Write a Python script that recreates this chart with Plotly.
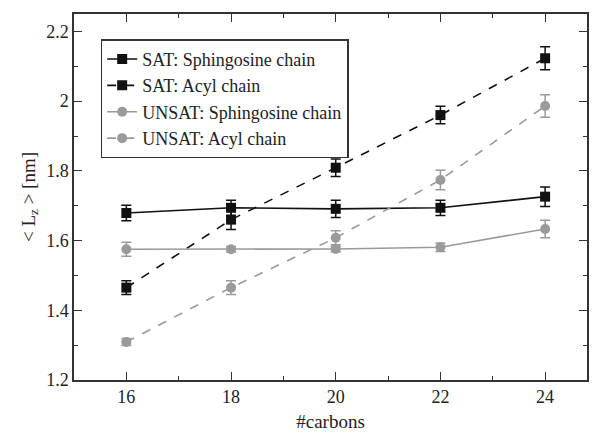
import plotly.graph_objects as go

carbons = [16, 18, 20, 22, 24]

sat_sph = [1.679, 1.694, 1.691, 1.694, 1.726]
sat_sph_err = [0.022, 0.022, 0.025, 0.022, 0.028]

sat_acyl = [1.465, 1.660, 1.809, 1.960, 2.123]
sat_acyl_err = [0.020, 0.028, 0.025, 0.025, 0.033]

unsat_sph = [1.575, 1.575, 1.576, 1.581, 1.633]
unsat_sph_err = [0.020, 0.008, 0.008, 0.012, 0.025]

unsat_acyl = [1.309, 1.465, 1.608, 1.774, 1.986]
unsat_acyl_err = [0.010, 0.020, 0.020, 0.028, 0.032]

BLACK = "#111111"
GRAY = "#9a9a9a"
FONT = "Liberation Serif"

series = [
    ("SAT: Sphingosine chain", sat_sph, sat_sph_err, BLACK, "solid", "square"),
    ("SAT: Acyl chain", sat_acyl, sat_acyl_err, BLACK, "dash", "square"),
    ("UNSAT: Sphingosine chain", unsat_sph, unsat_sph_err, GRAY, "solid", "circle"),
    ("UNSAT: Acyl chain", unsat_acyl, unsat_acyl_err, GRAY, "dash", "circle"),
]

fig = go.Figure()
for name, ys, errs, col, dash, sym in series:
    fig.add_trace(go.Scatter(
        x=carbons, y=ys, name=name, mode="lines+markers",
        line=dict(color=col, width=1.6, dash=dash),
        marker=dict(symbol=sym, size=10, color=col),
        error_y=dict(type="data", array=errs, color=col, thickness=1.5, width=5, visible=True),
    ))

axis_common = dict(
    showline=True, linecolor="#333333", linewidth=1.5, mirror="ticks",
    ticks="inside", ticklen=8, tickwidth=1.2, tickcolor="#333333",
    showgrid=False, zeroline=False, automargin=False,
    tickfont=dict(family=FONT, size=18, color="#222222"),
)

fig.update_xaxes(
    range=[15, 24.8], tickvals=carbons,
    minor=dict(ticks="inside", ticklen=4, dtick=1, tick0=15, tickcolor="#333333", showgrid=False),
    title=dict(text="#carbons", font=dict(family=FONT, size=19, color="#222222"), standoff=8),
    **axis_common,
)
fig.update_yaxes(
    range=[1.2, 2.25], tickvals=[1.2, 1.4, 1.6, 1.8, 2.0, 2.2],
    ticktext=["1.2", "1.4", "1.6", "1.8", "2", "2.2"],
    minor=dict(ticks="inside", ticklen=4, dtick=0.1, tick0=1.2, tickcolor="#333333", showgrid=False),
    title=dict(text="&lt; L<sub>z</sub> &gt; [nm]", font=dict(family=FONT, size=19, color="#222222"), standoff=6),
    **axis_common,
)

fig.update_layout(
    width=597, height=434,
    margin=dict(l=74, r=10, t=14, b=54),
    paper_bgcolor="white", plot_bgcolor="white",
    font=dict(family=FONT, color="#222222"),
    legend=dict(
        x=0.052, y=0.931, xanchor="left", yanchor="top",
        bgcolor="white", bordercolor="#333333", borderwidth=1.5,
        font=dict(family=FONT, size=18, color="#222222"),
        itemwidth=30, tracegroupgap=0,
    ),
)

fig.write_html("out.html", config={"displayModeBar": False},
               post_script="document.body.style.margin='0px';")
